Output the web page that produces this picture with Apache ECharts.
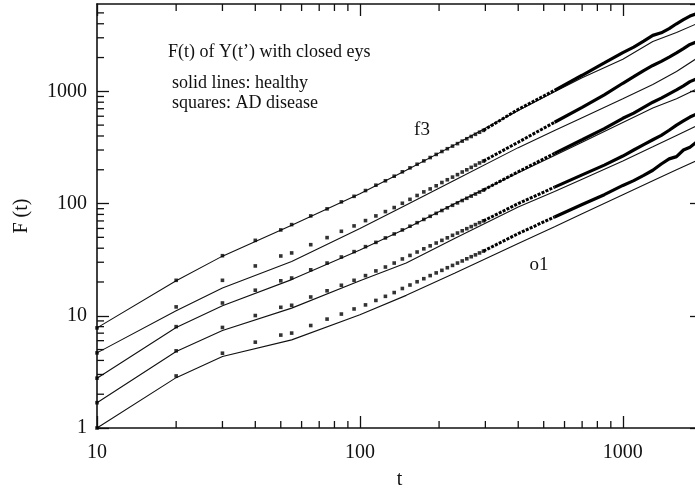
<!DOCTYPE html>
<html>
<head>
<meta charset="utf-8">
<title>F(t) of Y(t')</title>
<script src="https://cdn.jsdelivr.net/npm/echarts@6/dist/echarts.min.js"></script>
<style>
	html, body { margin: 0; padding: 0; background: #fff; }
	#chart { width: 695px; height: 490px; }
</style>
</head>
<body>
<div id="chart"></div>
<script>
// window sizes t and F(t) values
var lineT = [10, 20, 30, 55, 100, 150, 230, 400, 550, 700, 1000, 1300, 1600, 1900];
var healthy1 = [7.8, 20.5, 34, 64, 122, 198, 335, 675, 990, 1320, 1930, 2780, 3350, 3980];
var healthy2 = [4.67, 11.1, 17.7, 30.5, 60, 97, 162, 315, 447, 581, 858, 1150, 1500, 1950];
var healthy3 = [2.78, 7.85, 12.3, 21.0, 38.5, 60, 100, 188, 268, 352, 527, 710, 860, 1042];
var healthy4 = [1.68, 4.8, 7.4, 11.7, 20.5, 29.5, 49, 93, 128, 165, 240, 320, 405, 490];
var healthy5 = [1.0, 2.81, 4.33, 6.1, 10.2, 15.2, 24, 44, 62, 81, 120, 160, 200, 240];

// AD disease: separate squares at small t
var squareT = [10, 20, 30, 40, 50, 55, 65, 75, 85, 95, 105, 115, 125, 135, 145, 155, 165, 175, 185, 195, 205, 215, 225, 235, 245, 255, 265, 275, 285, 295];
var ad1 = [7.8, 20.7, 34.3, 47, 58.2, 64.9, 77.6, 89.7, 103.5, 116, 130.6, 145.7, 159.6, 175.3, 191.8, 208, 224, 240, 257, 274, 291, 308, 325, 342, 360, 378, 396, 414, 432, 449];
var ad2 = [4.67, 12.0, 20.7, 27.8, 34.1, 36.3, 43.0, 49.7, 56.6, 63.2, 70.5, 77.6, 84.8, 92.1, 100.6, 109, 118, 127, 135, 144, 154, 163, 172, 181, 191, 200, 210, 220, 230, 239];
var ad3 = [2.78, 8.0, 13.0, 16.9, 20.5, 21.7, 25.7, 29.5, 33.4, 37.3, 41.3, 45.1, 49.4, 53.6, 58.2, 62.8, 67.5, 72.2, 77.0, 81.8, 86.7, 91.6, 96.5, 101.4, 106.4, 111.4, 116.5, 121.5, 126.6, 131.7];
var ad4 = [1.68, 4.87, 7.87, 10.05, 11.9, 12.4, 14.7, 16.7, 18.7, 20.7, 22.8, 25.1, 27.2, 29.5, 32.1, 34.5, 37.0, 39.5, 42.0, 44.5, 47.0, 49.5, 52.1, 54.6, 57.2, 59.7, 62.3, 64.9, 67.5, 70.1];
var ad5 = [1.0, 2.91, 4.64, 5.82, 6.73, 7.01, 8.19, 9.34, 10.36, 11.5, 12.5, 13.7, 14.9, 16.1, 17.5, 18.8, 20.1, 21.4, 22.8, 24.1, 25.4, 26.8, 28.1, 29.5, 30.8, 32.2, 33.6, 34.9, 36.3, 37.7];

// AD disease at large t, where the squares run together
var denseT = [295, 400, 550, 700, 850, 1000, 1100, 1200, 1300, 1400, 1500, 1600, 1700, 1800, 1900];
var ad1Dense = [449, 690, 1020, 1390, 1790, 2215, 2480, 2800, 3150, 3320, 3620, 4000, 4350, 4680, 4900];
var ad2Dense = [239, 352, 530, 720, 930, 1180, 1350, 1530, 1700, 1850, 2020, 2200, 2400, 2620, 2750];
var ad3Dense = [132, 192, 280, 370, 465, 575, 640, 720, 800, 870, 950, 1030, 1120, 1220, 1290];
var ad4Dense = [70, 100, 140, 180, 220, 265, 300, 335, 370, 405, 450, 500, 545, 590, 625];
var ad5Dense = [37.7, 54, 76, 98, 120, 145, 160, 178, 198, 225, 250, 262, 300, 318, 350];

// log minor ticks
var xMinorTicks = [20, 30, 40, 50, 60, 70, 80, 90, 200, 300, 400, 500, 600, 700, 800, 900];
var yMinorTicks = [2, 3, 4, 5, 6, 7, 8, 9, 20, 30, 40, 50, 60, 70, 80, 90, 200, 300, 400, 500, 600, 700, 800, 900, 2000, 3000, 4000, 5000];

var X_MIN = 10, X_MAX = 2000, Y_MIN = 1, Y_MAX = 6000;
var T_SPLIT = 550;   // squares still show as beads below this t
var FONT = '"Liberation Serif", "DejaVu Serif", serif';
var INK = '#111';
var MINOR_LEN = 7;

createChart();

function pairs(xs, ys) {
	return xs.map(function (x, i) { return [x, ys[i]]; });
}

function createChart() {
	var chart = echarts.init(document.getElementById('chart'));

	function axisBase(pos, min, max, showLabel) {
		return {
			type: 'log',
			logBase: 10,
			position: pos,
			min: min,
			max: max,
			axisLine: { show: true, lineStyle: { color: INK, width: 1.6 } },
			axisTick: { show: true, inside: true, length: 12, lineStyle: { color: INK, width: 1.3 } },
			axisLabel: {
				show: showLabel,
				showMaxLabel: false,
				margin: 10,
				color: INK,
				fontFamily: FONT,
				fontSize: 20,
				formatter: function (v) { return String(Math.round(v)); }
			},
			splitLine: { show: false }
		};
	}

	var xBottom = axisBase('bottom', X_MIN, X_MAX, true);
	xBottom.axisLabel.margin = 15;
	xBottom.name = 't';
	xBottom.nameLocation = 'middle';
	xBottom.nameGap = 42;
	xBottom.nameTextStyle = { fontFamily: FONT, fontSize: 20, color: INK };

	var yLeft = axisBase('left', Y_MIN, Y_MAX, true);
	yLeft.name = 'F (t)';
	yLeft.nameLocation = 'middle';
	yLeft.nameGap = 65;
	yLeft.nameTextStyle = { fontFamily: FONT, fontSize: 20, color: INK };

	var healthy = [healthy1, healthy2, healthy3, healthy4, healthy5];
	var adSquares = [ad1, ad2, ad3, ad4, ad5];
	var adDense = [ad1Dense, ad2Dense, ad3Dense, ad4Dense, ad5Dense];

	var series = [];
	healthy.forEach(function (h, i) {
		series.push({
			name: 'healthy ' + (i + 1),
			type: 'line',
			data: pairs(lineT, h),
			showSymbol: false,
			lineStyle: { color: INK, width: 1.1 },
			z: 3
		});
	});
	adSquares.forEach(function (a, i) {
		series.push({
			name: 'AD ' + (i + 1),
			type: 'scatter',
			data: pairs(squareT, a),
			symbol: 'rect',
			symbolSize: 3.6,
			itemStyle: { color: '#000' },
			z: 4
		});
	});
	adDense.forEach(function (a, i) {
		var all = pairs(denseT, a);
		// beaded part, then solid
		series.push({
			name: 'AD beads ' + (i + 1),
			type: 'line',
			data: all.filter(function (p) { return p[0] <= T_SPLIT; }),
			showSymbol: false,
			lineStyle: { color: '#000', width: 3, type: [3, 1.3] },
			z: 4
		});
		series.push({
			name: 'AD dense ' + (i + 1),
			type: 'line',
			data: all.filter(function (p) { return p[0] >= T_SPLIT; }),
			showSymbol: false,
			lineStyle: { color: '#000', width: 3.2 },
			z: 4
		});
	});

	chart.setOption({
		animation: false,
		backgroundColor: '#fff',
		// plot runs a little past the right edge of the picture
		grid: { left: 97, right: -7, top: 4, bottom: 62, containLabel: false, outerBoundsMode: 'none' },
		xAxis: [xBottom, axisBase('top', X_MIN, X_MAX, false)],
		yAxis: [yLeft, axisBase('right', Y_MIN, Y_MAX, false)],
		series: series
	}, true);

	// 小刻度 + 文字 (minor ticks on the four sides, then the notes)
	var finder = { xAxisIndex: 0, yAxisIndex: 0 };
	var graphics = [];
	function tick(x1, y1, x2, y2) {
		graphics.push({ type: 'line', z: 10, shape: { x1: x1, y1: y1, x2: x2, y2: y2 }, style: { stroke: INK, lineWidth: 1.3 } });
	}
	xMinorTicks.forEach(function (v) {
		var b = chart.convertToPixel(finder, [v, Y_MIN]);
		var t = chart.convertToPixel(finder, [v, Y_MAX]);
		tick(b[0], b[1], b[0], b[1] - MINOR_LEN);
		tick(t[0], t[1], t[0], t[1] + MINOR_LEN);
	});
	yMinorTicks.forEach(function (v) {
		var l = chart.convertToPixel(finder, [X_MIN, v]);
		var r = chart.convertToPixel(finder, [X_MAX, v]);
		tick(l[0], l[1], l[0] + MINOR_LEN, l[1]);
		tick(r[0], r[1], r[0] - MINOR_LEN, r[1]);
	});

	graphics.push(
		{ type: 'text', x: 168, y: 52, style: { text: 'F(t) of Y(t\u2019) with closed eys', font: '18px ' + FONT, fill: INK, verticalAlign: 'middle' } },
		{ type: 'text', x: 172, y: 83, style: { text: 'solid lines: healthy', font: '18px ' + FONT, fill: INK, verticalAlign: 'middle' } },
		{ type: 'text', x: 172, y: 103, style: { text: 'squares: AD disease', font: '18px ' + FONT, fill: INK, verticalAlign: 'middle' } },
		{ type: 'text', x: 422, y: 130, style: { text: 'f3', font: '19px ' + FONT, fill: INK, align: 'center', verticalAlign: 'middle' } },
		{ type: 'text', x: 539, y: 265, style: { text: 'o1', font: '19px ' + FONT, fill: INK, align: 'center', verticalAlign: 'middle' } }
	);

	chart.setOption({ graphic: graphics });
}
</script>
</body>
</html>
